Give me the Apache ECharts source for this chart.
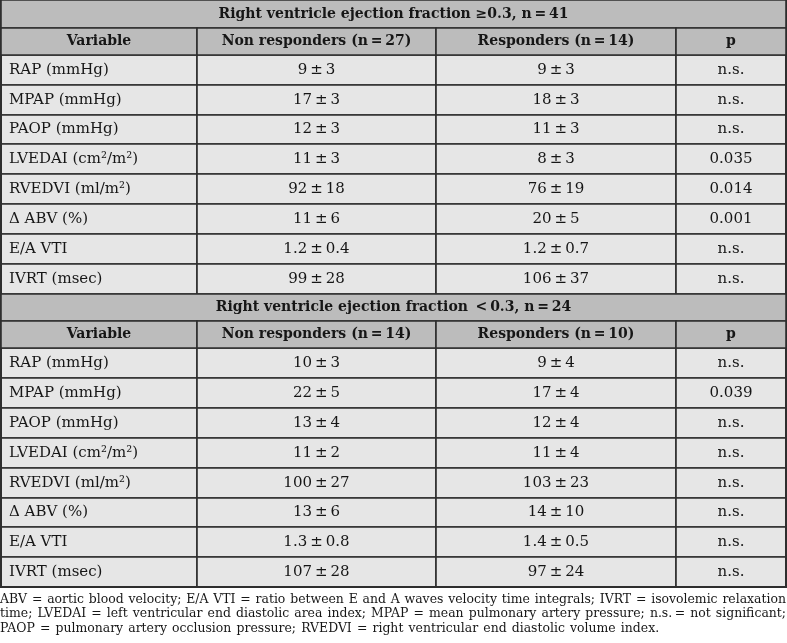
<!DOCTYPE html>
<html><head><meta charset="utf-8">
<script src="https://cdn.jsdelivr.net/npm/echarts@6/dist/echarts.min.js"></script>
<style>html,body{margin:0;padding:0;background:#fff}#main{width:787px;height:643px}</style>
</head><body><div id="main"></div>
<script>
// ---------------- data ----------------
const groupTitles = ['Right ventricle ejection fraction \u22650.3, n\u2009=\u200941', 'Right ventricle ejection fraction \u2009<\u20090.3, n\u2009=\u200924'];
const headers1 = ['Variable', 'Non responders (n\u2009=\u200927)', 'Responders (n\u2009=\u200914)', 'p'];
const headers2 = ['Variable', 'Non responders (n\u2009=\u200914)', 'Responders (n\u2009=\u200910)', 'p'];
const variables = ['RAP (mmHg)', 'MPAP (mmHg)', 'PAOP (mmHg)', 'LVEDAI (cm\u00b2/m\u00b2)', 'RVEDVI (ml/m\u00b2)', '\u0394 ABV (%)', 'E/A VTI', 'IVRT (msec)'];
const g1NonMean = [9, 17, 12, 11, 92, 11, 1.2, 99];
const g1NonSD   = [3, 3, 3, 3, 18, 6, 0.4, 28];
const g1ResMean = [9, 18, 11, 8, 76, 20, 1.2, 106];
const g1ResSD   = [3, 3, 3, 3, 19, 5, 0.7, 37];
const g1P = ['n.s.', 'n.s.', 'n.s.', '0.035', '0.014', '0.001', 'n.s.', 'n.s.'];
const g2NonMean = [10, 22, 13, 11, 100, 13, 1.3, 107];
const g2NonSD   = [3, 5, 4, 2, 27, 6, 0.8, 28];
const g2ResMean = [9, 17, 12, 11, 103, 14, 1.4, 97];
const g2ResSD   = [4, 4, 4, 4, 23, 10, 0.5, 24];
const g2P = ['n.s.', '0.039', 'n.s.', 'n.s.', 'n.s.', 'n.s.', 'n.s.', 'n.s.'];
const footLines = [
  'ABV = aortic blood velocity; E/A VTI = ratio between E and A waves velocity time integrals; IVRT = isovolemic relaxation',
  'time; LVEDAI = left ventricular end diastolic area index; MPAP = mean pulmonary artery pressure; n.s.\u2009= not significant;',
  'PAOP = pulmonary artery occlusion pressure; RVEDVI = right ventricular end diastolic volume index.'
];

// ---------------- layout / style ----------------
const SERIF = '"DejaVu Serif", serif';
const FS = 15, FS_B = 14;
const HEAD_BG = '#bcbcbc', BODY_BG = '#e6e6e6', LINE = '#2e2e2e', TXT = '#161616';
const TABLE_LEFT = 1, TABLE_TOP = 0, TABLE_W = 785;
const colSizes = [196, 239, 240, 110];
const headRowH = 27.3, dataRowH = 29.85;

const fmt = (m, s) => m + '\u2009\u00b1\u2009' + s;
const groups = [
  { title: groupTitles[0], head: headers1, nm: g1NonMean, ns: g1NonSD, rm: g1ResMean, rs: g1ResSD, p: g1P },
  { title: groupTitles[1], head: headers2, nm: g2NonMean, ns: g2NonSD, rm: g2ResMean, rs: g2ResSD, p: g2P }
];

const colKeys = ['c0', 'c1', 'c2', 'c3'];
const rowKeys = [], rowSizes = [], bodyData = [];
const boldLabel = { fontWeight: 'bold', fontSize: FS_B };
const leftLabel = { position: 'insideLeft', distance: 5 };
groups.forEach((g, gi) => {
  const tk = 'title' + gi;
  rowKeys.push(tk); rowSizes.push(headRowH);
  bodyData.push({ coord: [['c0', 'c3'], tk], mergeCells: true, value: g.title, itemStyle: { color: HEAD_BG }, label: boldLabel });
  const hk = 'head' + gi;
  rowKeys.push(hk); rowSizes.push(headRowH);
  g.head.forEach((h, ci) => bodyData.push({ coord: [colKeys[ci], hk], value: h, itemStyle: { color: HEAD_BG }, label: boldLabel }));
  variables.forEach((v, i) => {
    const rk = 'g' + gi + 'r' + i;
    rowKeys.push(rk); rowSizes.push(dataRowH);
    bodyData.push({ coord: ['c0', rk], value: v, label: leftLabel });
    bodyData.push({ coord: ['c1', rk], value: fmt(g.nm[i], g.ns[i]) });
    bodyData.push({ coord: ['c2', rk], value: fmt(g.rm[i], g.rs[i]) });
    bodyData.push({ coord: ['c3', rk], value: g.p[i] });
  });
});
const tableH = rowSizes.reduce((a, b) => a + b, 0);

// footnote (justified)
const ctx = document.createElement('canvas').getContext('2d');
ctx.font = '12px ' + SERIF;
const footFS = Math.min(13, 12 * 770 / ctx.measureText(footLines[0]).width);
const footFont = footFS + 'px ' + SERIF;
ctx.font = footFont;
const footTop = TABLE_TOP + tableH + 7, footLH = 14.3;
const graphics = [];
footLines.forEach((line, li) => {
  const words = line.split(' ');
  const ws = words.map(w => ctx.measureText(w).width);
  const total = ws.reduce((a, b) => a + b, 0);
  const justify = li < footLines.length - 1;
  const gap = justify ? (TABLE_W + 1 - total) / (words.length - 1) : ctx.measureText(' ').width * 1.3;
  let x = 0;
  words.forEach((w, wi) => {
    graphics.push({ type: 'text', x: x, y: footTop + li * footLH, style: { text: w, font: footFont, fill: TXT, textVerticalAlign: 'top' } });
    x += ws[wi] + gap;
  });
});

const chart = echarts.init(document.getElementById('main'));
chart.setOption({
  backgroundColor: '#fff',
  animation: false,
  matrix: {
    left: TABLE_LEFT, top: TABLE_TOP, width: TABLE_W, height: tableH,
    x: { show: false, data: colKeys.map((k, i) => ({ value: k, size: colSizes[i] })) },
    y: { show: false, data: rowKeys.map((k, i) => ({ value: k, size: rowSizes[i] })) },
    backgroundStyle: { color: BODY_BG, borderColor: LINE, borderWidth: 2 },
    body: {
      data: bodyData,
      itemStyle: { color: BODY_BG, borderColor: LINE, borderWidth: 1.6 },
      label: { show: true, color: TXT, fontFamily: SERIF, fontSize: FS }
    }
  },
  graphic: graphics
});
</script>
</body></html>
